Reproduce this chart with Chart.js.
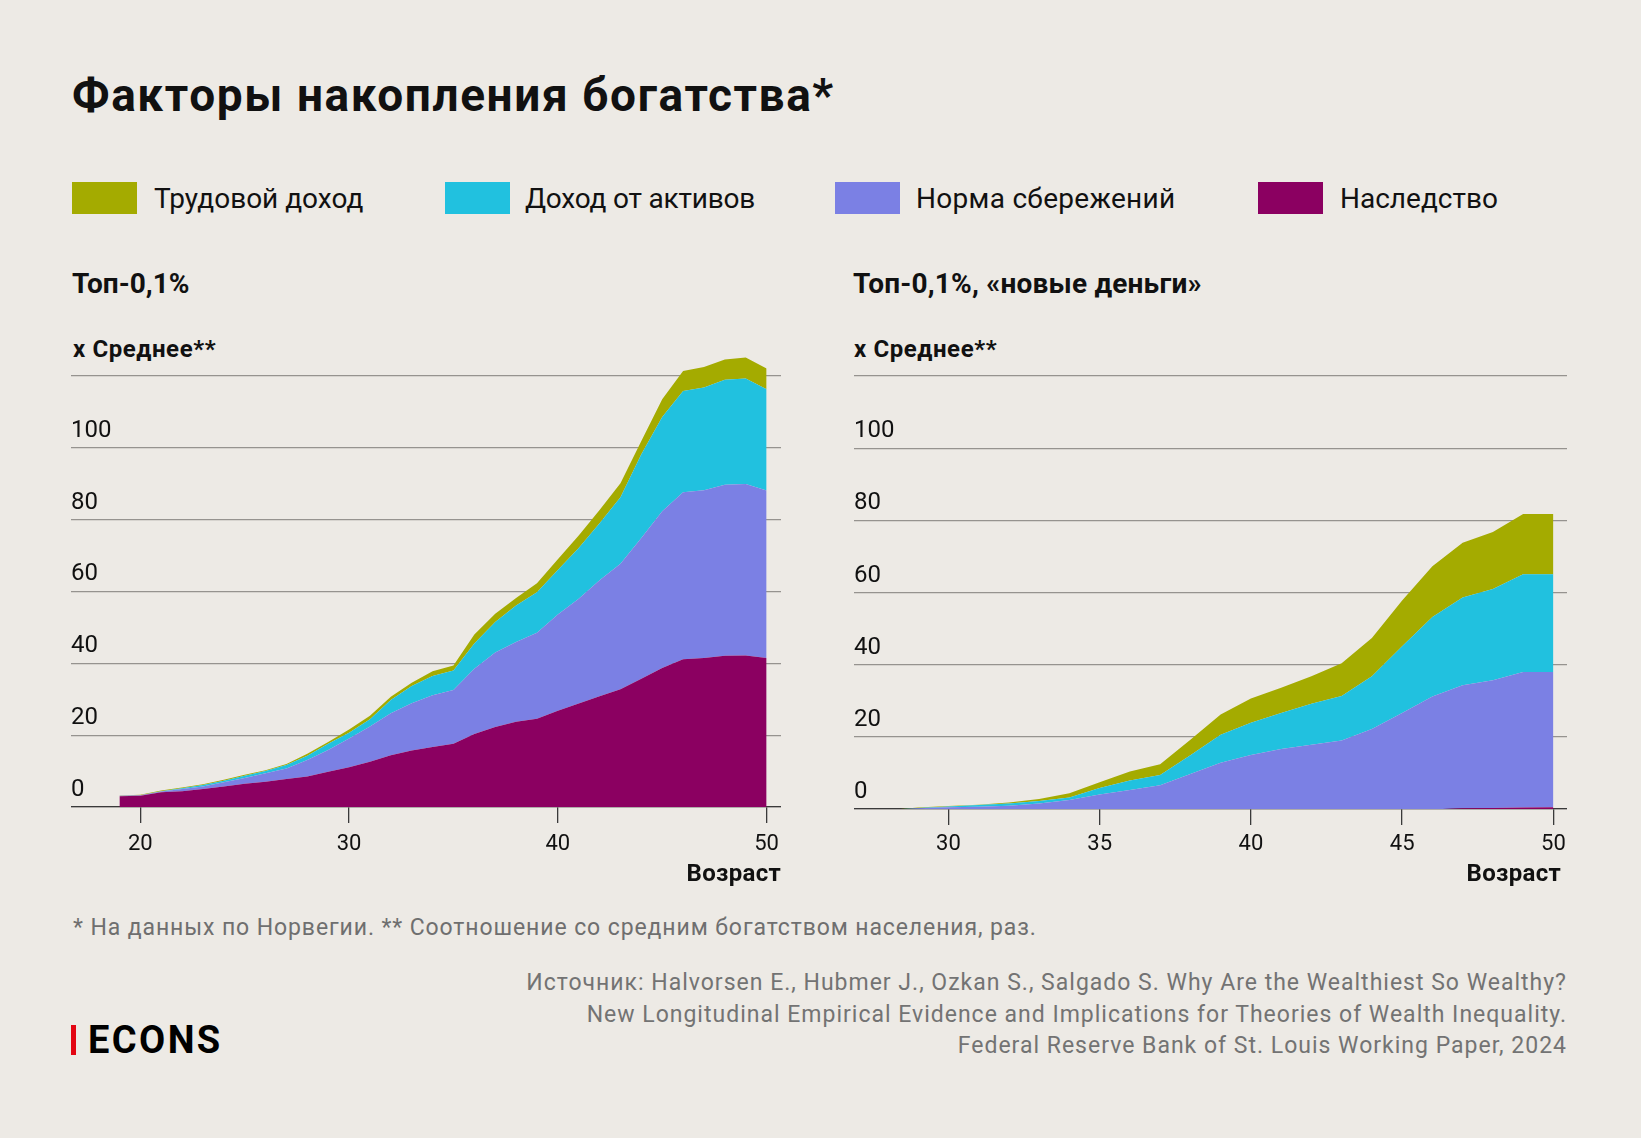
<!DOCTYPE html>
<html>
<head>
<meta charset="utf-8">
<script src="https://cdn.jsdelivr.net/npm/chart.js@4.4.1/dist/chart.umd.min.js"></script>
<style>
  html, body { margin: 0; padding: 0; background: #EDEAE5; }
  body { width: 1641px; height: 1138px; position: relative; overflow: hidden; font-family: Roboto, sans-serif; color: #111; }
  .t { position: absolute; white-space: nowrap; line-height: 1; }
  .b { font-weight: 700; }
  .sq { position: absolute; width: 65px; height: 32px; }
  canvas { position: absolute; }
</style>
</head>
<body>
<div class="t b" style="left:72px;top:72px;font-size:46px;letter-spacing:1.6px;">Факторы накопления богатства*</div>

<div class="sq" style="left:72px;top:182px;background:#A4AB00;"></div>
<div class="t" style="left:154px;top:185px;font-size:28px;">Трудовой доход</div>
<div class="sq" style="left:445px;top:182px;background:#21C1DF;"></div>
<div class="t" style="left:525px;top:185px;font-size:28px;letter-spacing:-0.2px;">Доход от активов</div>
<div class="sq" style="left:835px;top:182px;background:#7B80E4;"></div>
<div class="t" style="left:916px;top:185px;font-size:28px;letter-spacing:0.3px;">Норма сбережений</div>
<div class="sq" style="left:1258px;top:182px;background:#8B0061;"></div>
<div class="t" style="left:1340px;top:185px;font-size:28px;">Наследство</div>

<div class="t b" style="left:72px;top:270px;font-size:28px;">Топ-0,1%</div>
<div class="t b" style="left:853px;top:270px;font-size:28px;letter-spacing:0.2px;">Топ-0,1%, «новые деньги»</div>

<div class="t b" style="left:73px;top:337px;font-size:24px;letter-spacing:0.6px;">x Среднее**</div>
<div class="t b" style="left:854px;top:337px;font-size:24px;letter-spacing:0.6px;">x Среднее**</div>

<canvas id="left" width="710" height="560" style="left:71px;top:340px;"></canvas>
<canvas id="right" width="713" height="560" style="left:854px;top:340px;"></canvas>

<div class="t b" style="right:860px;top:861px;font-size:24px;letter-spacing:0.3px;">Возраст</div>
<div class="t b" style="right:80px;top:861px;font-size:24px;letter-spacing:0.3px;">Возраст</div>

<div class="t" style="left:73px;top:916px;font-size:23px;letter-spacing:0.9px;color:#6f6f6f;">* На данных по Норвегии. ** Соотношение со средним богатством населения, раз.</div>

<div class="t" style="right:74px;top:971px;font-size:23px;letter-spacing:1px;color:#737373;">Источник: Halvorsen E., Hubmer J., Ozkan S., Salgado S. Why Are the Wealthiest So Wealthy?</div>
<div class="t" style="right:74px;top:1003px;font-size:23px;letter-spacing:1px;color:#737373;">New Longitudinal Empirical Evidence and Implications for Theories of Wealth Inequality.</div>
<div class="t" style="right:74px;top:1034px;font-size:23px;letter-spacing:1px;color:#737373;">Federal Reserve Bank of St. Louis Working Paper, 2024</div>

<div style="position:absolute;left:71px;top:1025px;width:5px;height:30px;background:#E30613;"></div>
<div class="t b" style="left:88px;top:1021px;font-size:38px;letter-spacing:2.4px;color:#000;">ECONS</div>

<script>
// ---- Data: Top 0.1% ----
const agesLeft = [19,20,21,22,23,24,25,26,27,28,29,30,31,32,33,34,35,36,37,38,39,40,41,42,43,44,45,46,47,48,49,50];
const inheritLeft = [3.0,3.1,4.1,4.4,5.0,5.7,6.5,7.0,7.8,8.5,9.8,11.1,12.6,14.4,15.7,16.7,17.6,20.3,22.3,23.7,24.6,26.8,28.8,30.8,32.8,35.7,38.7,41.1,41.5,42.1,42.2,41.5];
const savingsLeft = [0.1,0.2,0.2,0.6,0.7,1.2,1.6,2.4,2.9,4.6,6.1,8.0,9.8,11.7,13.2,14.4,15.0,18.2,20.7,22.2,23.9,26.8,29.2,32.3,34.9,39.2,43.6,46.5,46.7,47.6,47.7,46.6];
const assetsLeft = [0,0,0.1,0.2,0.4,0.4,0.6,0.6,1.0,1.2,1.7,1.6,2.0,3.7,4.8,5.4,5.4,7.0,8.5,10.2,11.3,12.4,14.1,15.9,18.5,23.3,26.3,28.2,28.6,29.2,29.4,28.2];
const laborLeft = [0.1,0.1,0.2,0.2,0.2,0.3,0.3,0.2,0.3,0.5,0.5,0.9,1.0,0.9,0.9,1.3,1.4,2.5,2.3,2.1,2.5,3.0,3.5,3.7,3.9,3.7,4.9,5.6,5.7,5.7,5.8,5.8];

// ---- Data: Top 0.1%, new money ----
const agesRight = [28,29,30,31,32,33,34,35,36,37,38,39,40,41,42,43,44,45,46,47,48,49,50];
const inheritRight = [-0.3,-0.3,-0.3,-0.2,-0.2,0,0,0,0,0,0,0,0,0,-0.2,-0.3,-0.4,-0.3,-0.1,0.2,0.3,0.4,0.5];
const savingsRight = [0,0.2,0.5,0.6,0.9,1.5,2.5,4.0,5.3,6.6,9.7,12.8,15.0,16.6,17.8,19.0,22.2,26.6,31.2,34.1,35.4,37.6,37.5];
const assetsRight = [0,0.1,0.2,0.5,0.6,0.7,0.7,1.8,2.6,2.8,5.2,7.8,8.9,10.0,11.4,12.3,14.6,18.5,22.0,24.3,25.3,27.1,27.1];
const laborRight = [0,0.1,0.1,0.1,0.3,0.6,1.2,1.6,2.5,3.0,4.3,5.6,6.7,7.0,7.6,9.1,10.6,12.7,14.1,15.2,15.8,16.7,16.7];

// ---- Ticks ----
const yTicks = [0,20,40,60,80,100,120];
const yTickLabels = ['0','20','40','60','80','100',''];
const xTicksLeft = [20,30,40,50];
const xTicksRight = [30,35,40,45,50];

const seriesNames = ['Наследство','Норма сбережений','Доход от активов','Трудовой доход'];
const seriesColors = ['#8B0061','#7B80E4','#21C1DF','#A4AB00'];

function makeChart(id, ages, series, xMin, xMax, xTicks, xAxisH, xPad) {
  const datasets = series.map((vals, i) => ({
    label: seriesNames[i],
    data: ages.map((a, j) => ({ x: a, y: vals[j] })),
    backgroundColor: seriesColors[i],
    borderColor: seriesColors[i],
    borderWidth: 0,
    pointRadius: 0,
    tension: 0,
    fill: i === 0 ? 'origin' : '-1',
    clip: false
  }));
  return new Chart(document.getElementById(id), {
    type: 'line',
    data: { datasets },
    options: {
      responsive: false,
      maintainAspectRatio: false,
      animation: false,
      devicePixelRatio: 1,
      layout: { padding: 0 },
      plugins: { legend: { display: false }, tooltip: { enabled: false } },
      scales: {
        x: {
          type: 'linear', min: xMin, max: xMax,
          afterBuildTicks: s => { s.ticks = xTicks.map(v => ({ value: v })); },
          afterFit: s => { s.height = xAxisH; s.paddingLeft = 0; s.paddingRight = 0; },
          grid: { drawOnChartArea: false, drawTicks: true, tickLength: 16, color: '#3a3a3a', lineWidth: 1.3 },
          border: { display: true, color: '#3a3a3a', width: 1.3 },
          ticks: { font: { family: 'Roboto', size: 22 }, color: '#111', padding: xPad, maxRotation: 0, autoSkip: false }
        },
        y: {
          stacked: true, min: 0, max: 130,
          afterBuildTicks: s => { s.ticks = yTicks.map(v => ({ value: v })); },
          afterFit: s => { s.width = 0; s.paddingTop = 0; s.paddingBottom = 0; },
          grid: { drawTicks: false, color: '#96938f', lineWidth: 1.3 },
          border: { display: false },
          ticks: { mirror: true, padding: 0, labelOffset: -17, font: { family: 'Roboto', size: 24 }, color: '#111',
                   callback: (v, i) => yTickLabels[i] }
        }
      }
    }
  });
}

makeChart('left', agesLeft, [inheritLeft, savingsLeft, assetsLeft, laborLeft], 16.68, 50.69, xTicksLeft, 93, 8);
makeChart('right', agesRight, [inheritRight, savingsRight, assetsRight, laborRight], 26.88, 50.45, xTicksRight, 91, 6);
</script>
</body>
</html>
